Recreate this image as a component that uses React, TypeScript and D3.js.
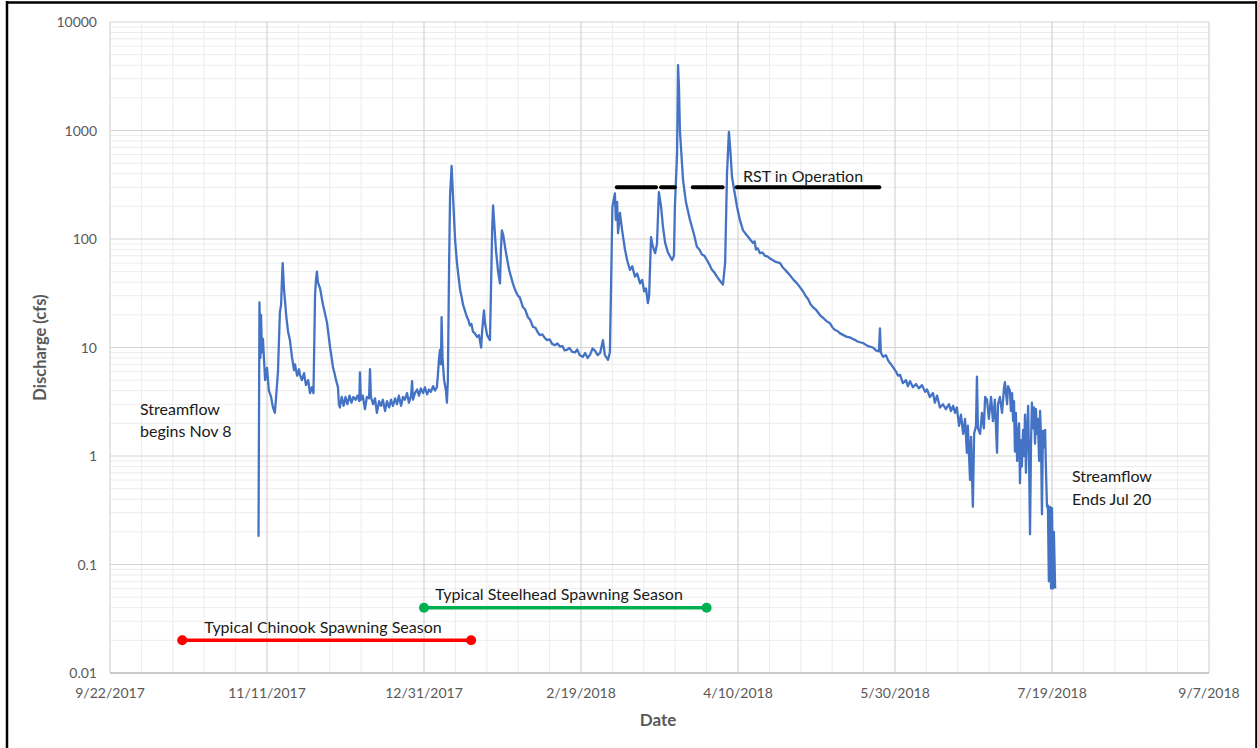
import React from "react";
import * as d3 from "d3";

// Day offsets counted from 9/22/2017
const xTickLabels = ["9/22/2017", "11/11/2017", "12/31/2017", "2/19/2018", "4/10/2018", "5/30/2018", "7/19/2018", "9/7/2018"];
const xTickDays = [0, 50, 100, 150, 200, 250, 300, 350];
const yTickValues = [0.01, 0.1, 1, 10, 100, 1000, 10000];
const yTickLabels = ["0.01", "0.1", "1", "10", "100", "1000", "10000"];

// Discharge record: [day offset, cfs]
const discharge: [number, number][] = [
  [47.3, 0.18], [47.6, 26], [47.9, 8], [48.1, 20], [48.4, 9], [48.7, 12], [49.4, 5], [50.0, 6.5], [50.6, 4],
  [51.3, 3.5], [51.9, 2.8], [52.5, 2.5], [52.9, 3.5], [53.5, 6], [54.1, 21], [54.5, 25], [54.8, 45], [55.0, 60],
  [55.4, 35], [56.1, 20], [56.7, 14], [57.3, 11.7], [58.0, 8], [58.6, 6.2], [58.9, 7], [59.6, 5.5], [60.2, 6.3],
  [60.5, 5.6], [61.1, 5], [61.8, 5.8], [62.4, 4.5], [63.1, 5], [63.7, 3.8], [64.3, 4.3], [64.8, 3.8], [65.3, 30],
  [65.6, 42], [65.9, 50], [66.2, 40], [66.9, 35], [67.8, 25], [68.4, 21], [69.1, 17], [69.6, 13], [70.1, 10],
  [70.6, 8], [71.0, 6.6], [71.5, 5.8], [72.0, 5],
  [72.6, 4.3], [72.9, 3], [73.2, 2.8], [73.8, 3.5], [74.4, 2.9], [75.0, 3.5], [75.6, 3.0], [76.3, 3.6], [76.9, 3.1],
  [77.5, 3.5], [78.2, 3.3], [78.8, 3.6], [79.4, 3.2], [79.6, 5.9], [79.9, 3.3], [80.5, 3.6], [81.2, 2.7], [81.8, 3.5],
  [82.5, 3.4], [82.8, 6.3], [83.1, 3.5], [83.8, 3.0], [84.4, 3.4], [85.0, 2.5], [85.7, 3.2], [86.3, 2.9], [86.9, 3.3],
  [87.6, 2.6], [88.2, 3.2], [88.9, 2.8], [89.5, 3.3], [90.1, 2.9], [90.8, 3.4], [91.4, 3.0], [92.0, 3.6], [92.7, 2.9],
  [93.3, 3.5], [93.9, 3.3], [94.6, 3.8], [95.2, 3.1], [95.9, 3.6], [96.2, 4.9], [96.5, 3.3], [97.1, 3.8], [97.8, 4.1],
  [98.4, 3.6], [99.0, 4.2], [99.7, 3.8], [100.3, 4.3], [101.0, 3.7], [101.6, 4.1], [102.2, 3.9], [102.9, 4.4],
  [103.5, 4.0], [104.1, 4.3], [104.5, 6], [104.8, 8], [105.1, 9.5], [105.4, 7], [105.6, 19], [105.9, 8], [106.4, 5],
  [107.0, 4], [107.3, 3.1], [107.6, 5], [108.0, 60], [108.3, 250], [108.8, 471], [109.1, 300], [109.6, 150],
  [109.9, 98], [110.5, 60], [111.0, 45], [111.5, 34], [112.0, 29], [112.4, 25], [113.0, 22], [113.7, 19], [114.1, 18],
  [114.6, 16], [115.1, 16.5], [115.6, 14], [116.2, 13.5], [116.9, 12.5],
  [117.5, 13], [118.2, 10], [118.5, 14], [119.1, 22], [119.4, 17], [120.1, 13], [121.0, 11.7], [121.3, 30],
  [121.7, 120], [122.0, 204], [122.3, 150], [122.9, 80], [123.6, 50], [124.2, 39], [124.5, 80], [124.8, 120],
  [125.2, 110], [126.1, 75], [127.1, 52], [127.7, 45], [128.3, 39], [129.0, 34], [129.9, 30], [130.5, 29],
  [131.5, 23.5], [132.2, 22.5], [133.1, 19], [133.8, 18], [134.7, 15.5], [135.5, 15.2], [136.2, 13.8], [136.9, 13],
  [137.7, 13.2], [138.5, 12.2], [139.2, 11.7], [140.0, 11.9], [140.8, 10.8], [141.7, 10.5], [142.5, 10.9],
  [143.3, 10.2], [144.1, 10.3], [144.8, 9.4], [145.5, 9.5], [146.3, 9.9], [147.2, 9.1], [148.1, 9], [148.8, 9.6],
  [149.6, 8.5], [150.6, 8.2], [151.3, 8.9], [152.1, 8.0], [152.9, 8.6], [153.7, 9.8], [154.5, 9.3], [155.3, 8.5],
  [156.1, 8.9], [157.0, 11.7], [157.6, 8.5], [158.6, 7.7], [159.2, 9], [159.7, 60], [160.0, 197],
  [160.8, 263], [161.1, 150], [161.5, 220], [161.8, 113], [162.4, 174], [163.1, 120], [164.0, 80], [164.8, 62],
  [165.6, 52], [166.3, 56], [167.2, 45], [167.9, 48], [168.8, 39], [169.5, 42], [170.1, 33], [170.7, 35],
  [171.3, 25.6], [171.7, 30], [172.3, 104], [172.9, 85], [173.6, 74],
  [174.2, 90], [174.8, 270], [175.5, 200], [176.1, 130], [176.8, 92], [177.7, 75], [179.0, 64], [179.6, 70],
  [179.9, 197], [180.6, 616], [180.9, 4000], [181.2, 2500], [181.5, 1000], [182.5, 350], [183.4, 220], [184.7, 150],
  [186.0, 110], [186.9, 85], [187.7, 80], [188.5, 72], [189.3, 70], [190.1, 64], [190.9, 58], [191.7, 52],
  [192.5, 49], [193.3, 45], [194.3, 41], [195.2, 38],
  [195.9, 60], [196.5, 400], [197.1, 970], [197.5, 700], [198.1, 372], [199.0, 260], [199.7, 197], [200.6, 150],
  [201.6, 120], [202.4, 112], [203.2, 105], [204.0, 98], [204.8, 92], [205.3, 95], [205.7, 80], [206.3, 82],
  [207.0, 74], [207.8, 75], [208.6, 70], [209.4, 69], [210.2, 66], [211.0, 64], [211.8, 62], [212.6, 61],
  [213.4, 60], [214.2, 55], [215.0, 52], [215.8, 49], [216.6, 46], [217.7, 42], [218.8, 39], [219.7, 36],
  [220.7, 33], [221.5, 30], [222.3, 28], [223.1, 25], [223.9, 23.5], [224.7, 22.5], [225.5, 21], [226.3, 19.6],
  [227.1, 18.8], [228.2, 17.5], [229.3, 16.7], [230.1, 15.3], [230.9, 14.5], [231.7, 14.2], [232.5, 13.5],
  [233.6, 13], [234.7, 12.5], [235.6, 12.4], [236.6, 12], [237.4, 11.7], [238.2, 11.3],
  [239.8, 11], [241.4, 10.3], [243.0, 10], [243.9, 9.4], [244.9, 9.2], [245.2, 15], [245.5, 9], [246.2, 8.2],
  [247.1, 8.5], [247.8, 7.6], [248.4, 7.2], [249.4, 6.6], [250.3, 6.0], [251.0, 5.5], [251.6, 5.6], [252.5, 4.7],
  [253.5, 5.0], [254.1, 4.4], [254.8, 4.9], [255.7, 4.3], [256.7, 4.6], [257.6, 4.2], [258.6, 4.5], [259.6, 3.9],
  [260.2, 4.1], [261.1, 3.5], [262.1, 3.8], [262.7, 3.1], [263.4, 3.6], [264.3, 2.8], [265.3, 3.0], [266.2, 2.7],
  [267.2, 3.0], [267.8, 2.6], [268.5, 2.9], [269.1, 2.5], [269.7, 2.8], [270.4, 1.9], [271.0, 2.4], [271.7, 1.6],
  [272.3, 2.2], [272.9, 1.07], [273.2, 1.9], [273.9, 0.6], [274.2, 1.5], [274.8, 0.34], [275.2, 1.6], [275.8, 1.9],
  [276.1, 5.4], [276.4, 1.8], [277.1, 1.6], [277.7, 2.5], [278.3, 1.8], [278.7, 3.5], [279.3, 3.3], [279.9, 2.2],
  [280.6, 3.5], [281.2, 2.1], [281.8, 3.3], [282.5, 1.07], [282.8, 3.0], [283.4, 3.5], [284.1, 2.5], [284.7, 4.2],
  [285.0, 4.8], [285.7, 3.0], [286.0, 4.4], [286.6, 4.0], [286.9, 2.6], [287.3, 3.8], [287.6, 2.1], [287.9, 3.2],
  [288.2, 1.1], [288.5, 2.5], [288.9, 0.9], [289.2, 1.6], [289.5, 2.0], [289.8, 0.56], [290.1, 1.4], [290.4, 0.8],
  [290.8, 1.74], [291.1, 1.0], [291.4, 2.4], [291.7, 0.7], [292.0, 1.5], [292.4, 2.9], [292.7, 0.9], [293.0, 0.19],
  [293.3, 1.2], [293.6, 3.1], [293.9, 1.8], [294.3, 2.8], [294.6, 1.3], [294.9, 2.7], [295.2, 1.6], [295.5, 2.2],
  [295.9, 0.9], [296.2, 2.6], [296.5, 1.5], [296.8, 0.29], [297.1, 1.7], [297.5, 1.2], [297.8, 1.74], [298.1, 0.7],
  [298.4, 0.34], [298.7, 0.35], [299.0, 0.07], [299.4, 0.34], [299.7, 0.06], [300.0, 0.33], [300.3, 0.06],
  [300.6, 0.2], [301.0, 0.06],
];

// Seasons: [start day, end day] and plotted level (cfs)
const chinookSeason = [23, 115];
const chinookLevel = 0.02;
const steelheadSeason = [100, 190];
const steelheadLevel = 0.04;
// RST operation periods
const rstPeriods: [number, number][] = [[161.4, 173.9], [175.5, 179.9], [185.6, 195.1], [199.6, 245.0]];
const rstLevel = 300;

const W = 1257;
const H = 748;
const M = { left: 110, right: 1209, top: 22, bottom: 673 };
const FONT = "Lato, 'Open Sans', sans-serif";
const TEXT = "#1a1a1a";

export default function App() {
  const x = d3.scaleLinear().domain([0, 350]).range([M.left, M.right]);
  const y = d3.scaleLog().domain([0.01, 10000]).range([M.bottom, M.top]);

  const minorX = d3.range(0, 351, 10).filter((d) => d % 50 !== 0);
  const minorY: number[] = [];
  for (let e = -2; e < 4; e++) for (let k = 2; k <= 9; k++) minorY.push(k * Math.pow(10, e));

  const line = d3
    .line<[number, number]>()
    .x((d) => x(d[0]))
    .y((d) => y(d[1]));

  return (
    <svg width={W} height={H} style={{ position: "absolute", left: 0, top: 0, background: "#fff" }} fontFamily={FONT}>
      <rect x={0} y={0} width={W} height={H} fill="#fff" />
      {/* minor grid */}
      {minorX.map((d) => (
        <line key={"mx" + d} x1={x(d)} x2={x(d)} y1={M.top} y2={M.bottom} stroke="#ececec" strokeWidth={1} />
      ))}
      {minorY.map((v) => (
        <line key={"my" + v} x1={M.left} x2={M.right} y1={y(v)} y2={y(v)} stroke="#ececec" strokeWidth={1} />
      ))}
      {/* major grid */}
      {xTickDays.map((d) => (
        <line key={"gx" + d} x1={x(d)} x2={x(d)} y1={M.top} y2={M.bottom} stroke="#d4d4d4" strokeWidth={1.2} />
      ))}
      {yTickValues.map((v) => (
        <line key={"gy" + v} x1={M.left} x2={M.right} y1={y(v)} y2={y(v)} stroke="#d4d4d4" strokeWidth={1.2} />
      ))}
      {/* x axis line */}
      <line x1={M.left} x2={M.right} y1={M.bottom} y2={M.bottom} stroke="#bfbfbf" strokeWidth={1.5} />

      {/* tick labels */}
      {yTickValues.map((v, i) => (
        <text key={"ty" + v} x={97} y={y(v) + 5} textAnchor="end" fontSize={14} fill="#595959">
          {yTickLabels[i]}
        </text>
      ))}
      {xTickDays.map((d, i) => (
        <text key={"tx" + d} x={x(d)} y={698} textAnchor="middle" fontSize={14} fill="#595959">
          {xTickLabels[i]}
        </text>
      ))}

      {/* axis titles */}
      <text x={658} y={726} textAnchor="middle" fontSize={17} fontWeight="bold" fill="#595959">
        Date
      </text>
      <text
        transform={`translate(46, ${(M.top + M.bottom) / 2}) rotate(-90)`}
        textAnchor="middle"
        fontSize={16.5}
        fontWeight="bold"
        fill="#595959"
      >
        Discharge (cfs)
      </text>

      {/* discharge series */}
      <path d={line(discharge) || ""} fill="none" stroke="#4472C4" strokeWidth={2.3} strokeLinejoin="round" />

      {/* RST operation bars */}
      {rstPeriods.map((p, i) => (
        <line key={"rst" + i} x1={x(p[0])} x2={x(p[1])} y1={y(rstLevel)} y2={y(rstLevel)} stroke="#000" strokeWidth={4} strokeLinecap="round" />
      ))}
      <text x={743} y={182} fontSize={16} fill={TEXT}>RST in Operation</text>

      {/* Chinook season */}
      <line x1={x(chinookSeason[0])} x2={x(chinookSeason[1])} y1={y(chinookLevel)} y2={y(chinookLevel)} stroke="#FF0000" strokeWidth={3.5} />
      {chinookSeason.map((d) => (
        <circle key={"cc" + d} cx={x(d)} cy={y(chinookLevel)} r={5} fill="#FF0000" />
      ))}
      <text x={323} y={633} textAnchor="middle" fontSize={16} fill={TEXT}>Typical Chinook Spawning Season</text>

      {/* Steelhead season */}
      <line x1={x(steelheadSeason[0])} x2={x(steelheadSeason[1])} y1={y(steelheadLevel)} y2={y(steelheadLevel)} stroke="#00B050" strokeWidth={3.5} />
      {steelheadSeason.map((d) => (
        <circle key={"sc" + d} cx={x(d)} cy={y(steelheadLevel)} r={5} fill="#00B050" />
      ))}
      <text x={559} y={600} textAnchor="middle" fontSize={16} fill={TEXT}>Typical Steelhead Spawning Season</text>

      {/* annotations */}
      <text x={140} y={415} fontSize={16} fill={TEXT}>
        <tspan x={140}>Streamflow</tspan>
        <tspan x={140} dy={22}>begins Nov 8</tspan>
      </text>
      <text x={1072} y={482} fontSize={16} fill={TEXT}>
        <tspan x={1072}>Streamflow</tspan>
        <tspan x={1072} dy={23}>Ends Jul 20</tspan>
      </text>

      {/* outer frame */}
      <line x1={7} x2={7} y1={1} y2={H} stroke="#000" strokeWidth={2.5} />
      <line x1={6} x2={1257} y1={2.5} y2={2.5} stroke="#000" strokeWidth={2.5} />
      <line x1={1256.2} x2={1256.2} y1={1} y2={H} stroke="#000" strokeWidth={2} />
    </svg>
  );
}
